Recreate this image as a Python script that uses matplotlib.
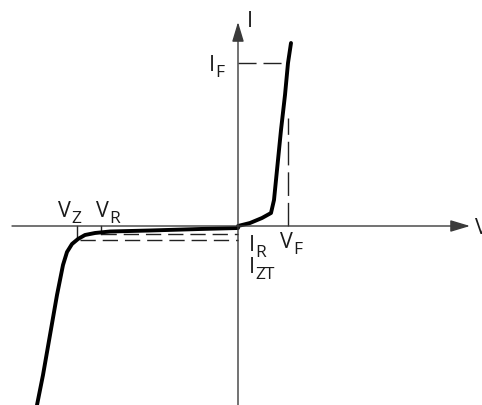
import matplotlib
matplotlib.use("Agg")
import matplotlib.pyplot as plt
import numpy as np

# ---- data (schematic Zener diode I-V curve, arbitrary units) ----
fwd_v = [0.0, 1.2, 2.4, 3.3, 3.6, 3.9, 4.3, 4.7, 5.0, 5.3]
fwd_i = [0.0, 0.3, 0.8, 1.3, 2.6, 5.6, 9.6, 13.1, 16.3, 18.3]

rev_v = [0.0, -3.8, -8.8, -12.8, -14.3, -15.3, -16.0, -16.6, -17.1, -17.5, -18.1, -18.8, -19.5, -20.1]
rev_i = [-0.2, -0.3, -0.45, -0.55, -0.7, -0.9, -1.3, -1.8, -2.6, -3.9, -6.9, -10.9, -14.9, -17.9]

V_F, I_F = 5.0, 16.3
V_Z, V_R = -16.1, -13.7
I_R, I_ZT = -0.8, -1.4

x_range = (-23.8, 24.4)
y_range = (-17.9, 22.6)

plt.rcParams['font.family'] = ['Open Sans', 'DejaVu Sans']

fig = plt.figure(figsize=(4.82, 4.05), dpi=100)
ax = fig.add_axes([0, 0, 1, 1])
ax.set_xlim(*x_range)
ax.set_ylim(*y_range)
ax.axis('off')

axis_col = '#3a3a3a'
# axes with arrows
ax.annotate('', xy=(23.2, 0), xytext=(-22.6, 0),
            arrowprops=dict(arrowstyle='-|>,head_length=0.6,head_width=0.18',
                            mutation_scale=20, color=axis_col, lw=1.0,
                            shrinkA=0, shrinkB=0))
ax.annotate('', xy=(0, 20.4), xytext=(0, -17.9),
            arrowprops=dict(arrowstyle='-|>,head_length=0.6,head_width=0.18',
                            mutation_scale=20, color=axis_col, lw=1.0,
                            shrinkA=0, shrinkB=0))

dash = (11, 5)
lk = dict(color='#222222', lw=1.0)
# I_F horizontal dashed
l, = ax.plot([0, V_F], [I_F, I_F], **lk); l.set_dashes((13, 5))
# V_F vertical dashed
l, = ax.plot([V_F, V_F], [0, 10.8], **lk); l.set_dashes((17, 5))
# I_R and I_ZT dashed lines
l, = ax.plot([V_R, 0], [I_R, I_R], **lk); l.set_dashes(dash)
l, = ax.plot([V_Z + 0.3, 0], [I_ZT, I_ZT], **lk); l.set_dashes(dash)
# V_Z, V_R ticks
ax.plot([V_Z, V_Z], [0, -1.15], **lk)
ax.plot([V_R, V_R], [0, -0.75], **lk)

# curve
ax.plot(fwd_v, fwd_i, color='black', lw=2.8, solid_capstyle='round', solid_joinstyle='round')
ax.plot(rev_v, rev_i, color='black', lw=2.8, solid_capstyle='round', solid_joinstyle='round')

tc = '#1a1a1a'
def px2d(px, py):
    return ((px - 238) / 10.0, (226 - py) / 10.0)

def label(px, py, main, sub=None, size=15.5, subsize=12.5):
    t = ax.text(*px2d(px, py), main, fontsize=size, color=tc, ha='left', va='baseline')
    if sub:
        ax.annotate(sub, xy=(1, 0), xycoords=t, xytext=(0.05, -3.4),
                    textcoords='offset points', fontsize=subsize, color=tc,
                    ha='left', va='bottom')

label(247, 27, 'I')
label(209, 71, 'I', 'F')
label(58, 217, 'V', 'Z')
label(96, 217, 'V', 'R')
label(249, 251, 'I', 'R')
label(249, 273, 'I', 'ZT')
label(280, 248, 'V', 'F')
label(475, 234, 'V')

fig.savefig('out.png', dpi=100)
